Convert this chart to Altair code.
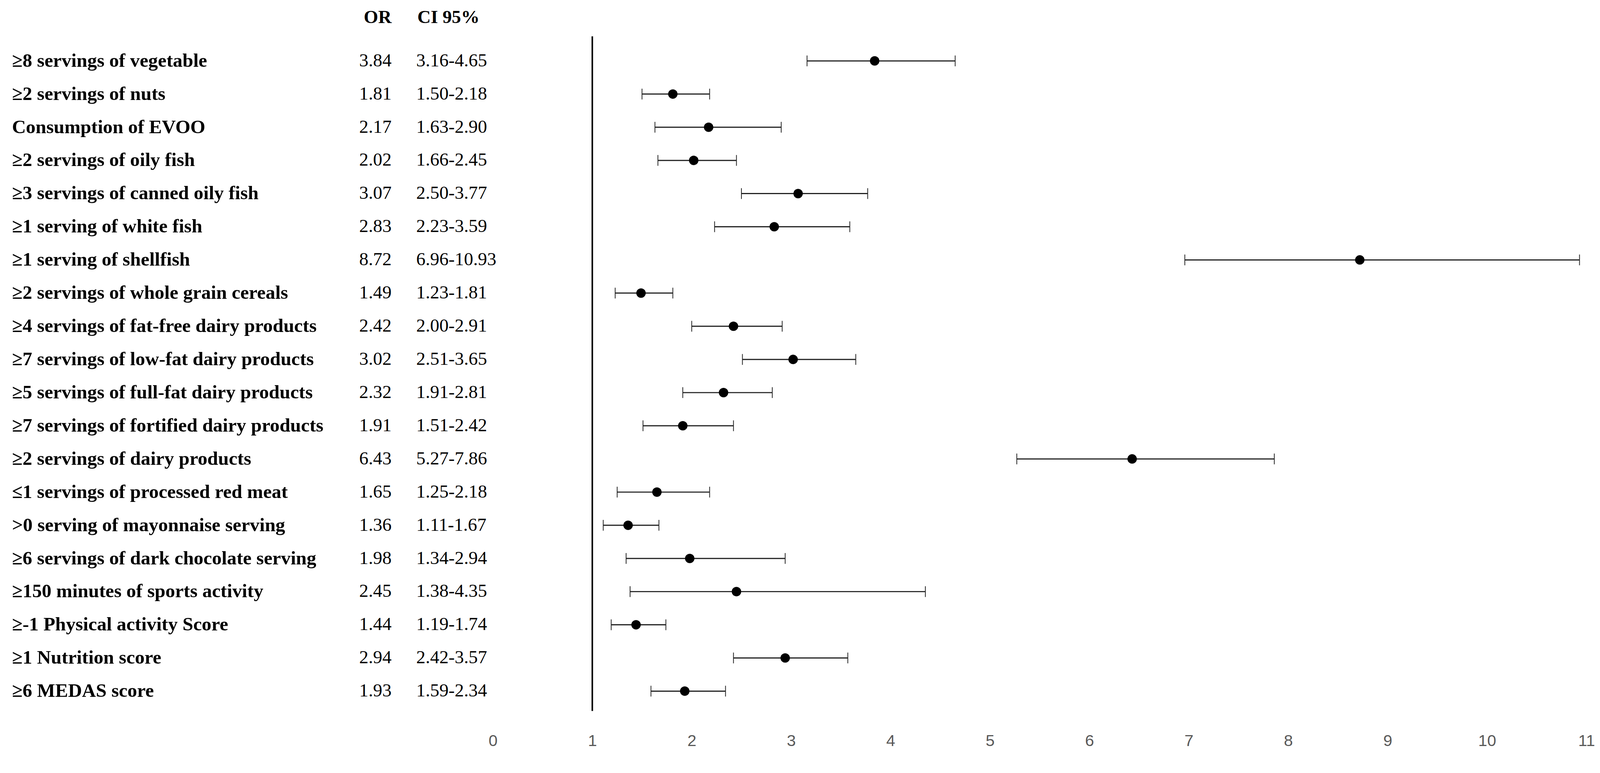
import altair as alt
import pandas as pd

labels = [
    "≥8 servings of vegetable",
    "≥2 servings of nuts",
    "Consumption of EVOO",
    "≥2 servings of oily fish",
    "≥3 servings of canned oily fish",
    "≥1 serving of white fish",
    "≥1 serving of shellfish",
    "≥2 servings of whole grain cereals",
    "≥4 servings of fat-free dairy products",
    "≥7 servings of low-fat dairy products",
    "≥5 servings of full-fat dairy products",
    "≥7 servings of fortified dairy products",
    "≥2 servings of dairy products",
    "≤1 servings of processed red meat",
    ">0 serving of mayonnaise serving",
    "≥6 servings of dark chocolate serving",
    "≥150 minutes of sports activity",
    "≥-1 Physical activity Score",
    "≥1 Nutrition score",
    "≥6 MEDAS score",
]
or_vals = [3.84, 1.81, 2.17, 2.02, 3.07, 2.83, 8.72, 1.49, 2.42, 3.02,
           2.32, 1.91, 6.43, 1.65, 1.36, 1.98, 2.45, 1.44, 2.94, 1.93]
ci_lo = [3.16, 1.50, 1.63, 1.66, 2.50, 2.23, 6.96, 1.23, 2.00, 2.51,
         1.91, 1.51, 5.27, 1.25, 1.11, 1.34, 1.38, 1.19, 2.42, 1.59]
ci_hi = [4.65, 2.18, 2.90, 2.45, 3.77, 3.59, 10.93, 1.81, 2.91, 3.65,
         2.81, 2.42, 7.86, 2.18, 1.67, 2.94, 4.35, 1.74, 3.57, 2.34]
x_ticks = list(range(0, 12))

df = pd.DataFrame({
    "idx": list(range(len(labels))),
    "label": labels,
    "or": or_vals,
    "lo": ci_lo,
    "hi": ci_hi,
})
df["or_text"] = [f"{v:.2f}" for v in or_vals]
df["ci_text"] = [f"{a:.2f}-{b:.2f}" for a, b in zip(ci_lo, ci_hi)]

H = 1751
SERIF = "Liberation Serif"
yscale = alt.Scale(domain=[-0.74, 19.6], reverse=True, nice=False, zero=False)
Y = alt.Y("idx:Q", scale=yscale, axis=None)

base = alt.Chart(df)

label_panel = base.mark_text(
    align="left", baseline="middle", font=SERIF, fontSize=50,
    fontWeight="bold", color="black"
).encode(x=alt.value(0), y=Y, text="label:N").properties(width=901, height=H)

or_panel = base.mark_text(
    align="left", baseline="middle", font=SERIF, fontSize=48, color="black"
).encode(x=alt.value(0), y=Y, text="or_text:N").properties(
    width=148, height=H,
    title=alt.TitleParams("OR", anchor="start", font=SERIF, fontSize=48,
                          fontWeight="bold", color="black", offset=25, dx=12),
)

ci_panel = base.mark_text(
    align="left", baseline="middle", font=SERIF, fontSize=48, color="black"
).encode(x=alt.value(0), y=Y, text="ci_text:N").properties(
    width=199, height=H,
    title=alt.TitleParams("CI 95%", anchor="start", font=SERIF, fontSize=48,
                          fontWeight="bold", color="black", offset=25, dx=3),
)

xscale = alt.Scale(domain=[0, 11], nice=False, zero=False)
X = alt.X("or:Q", scale=xscale, axis=alt.Axis(
    values=x_ticks, format="d", domain=False, ticks=False, tickSize=0,
    grid=False, labelFont="Liberation Sans", labelFontSize=42,
    labelColor="#595959", labelPadding=57, title=None, labelFlush=False,
))

ref = alt.Chart(pd.DataFrame({"ref": [1]})).mark_rule(
    color="black", strokeWidth=4
).encode(x=alt.X("ref:Q", scale=xscale))

bars = base.mark_rule(color="#222222", strokeWidth=3).encode(
    x=alt.X("lo:Q", scale=xscale), x2="hi:Q", y=Y
)

caps = base.transform_fold(["lo", "hi"], as_=["end", "val"]).mark_tick(
    orient="vertical", size=28, thickness=2, color="#222222", opacity=1
).encode(x=alt.X("val:Q", scale=xscale), y=Y)

dots = base.mark_circle(size=600, color="black", opacity=1).encode(x=X, y=Y)

plot_panel = alt.layer(ref, bars, caps, dots).properties(width=2838, height=H)

chart = alt.hconcat(
    label_panel, or_panel, ci_panel, plot_panel, spacing=0, bounds="flush"
).properties(
    padding={"left": 23, "top": 0, "right": 5, "bottom": 5},
    background="white",
).configure_view(strokeWidth=0, stroke="transparent")

chart.save("out.html", embed_options={"renderer": "svg", "actions": False})
